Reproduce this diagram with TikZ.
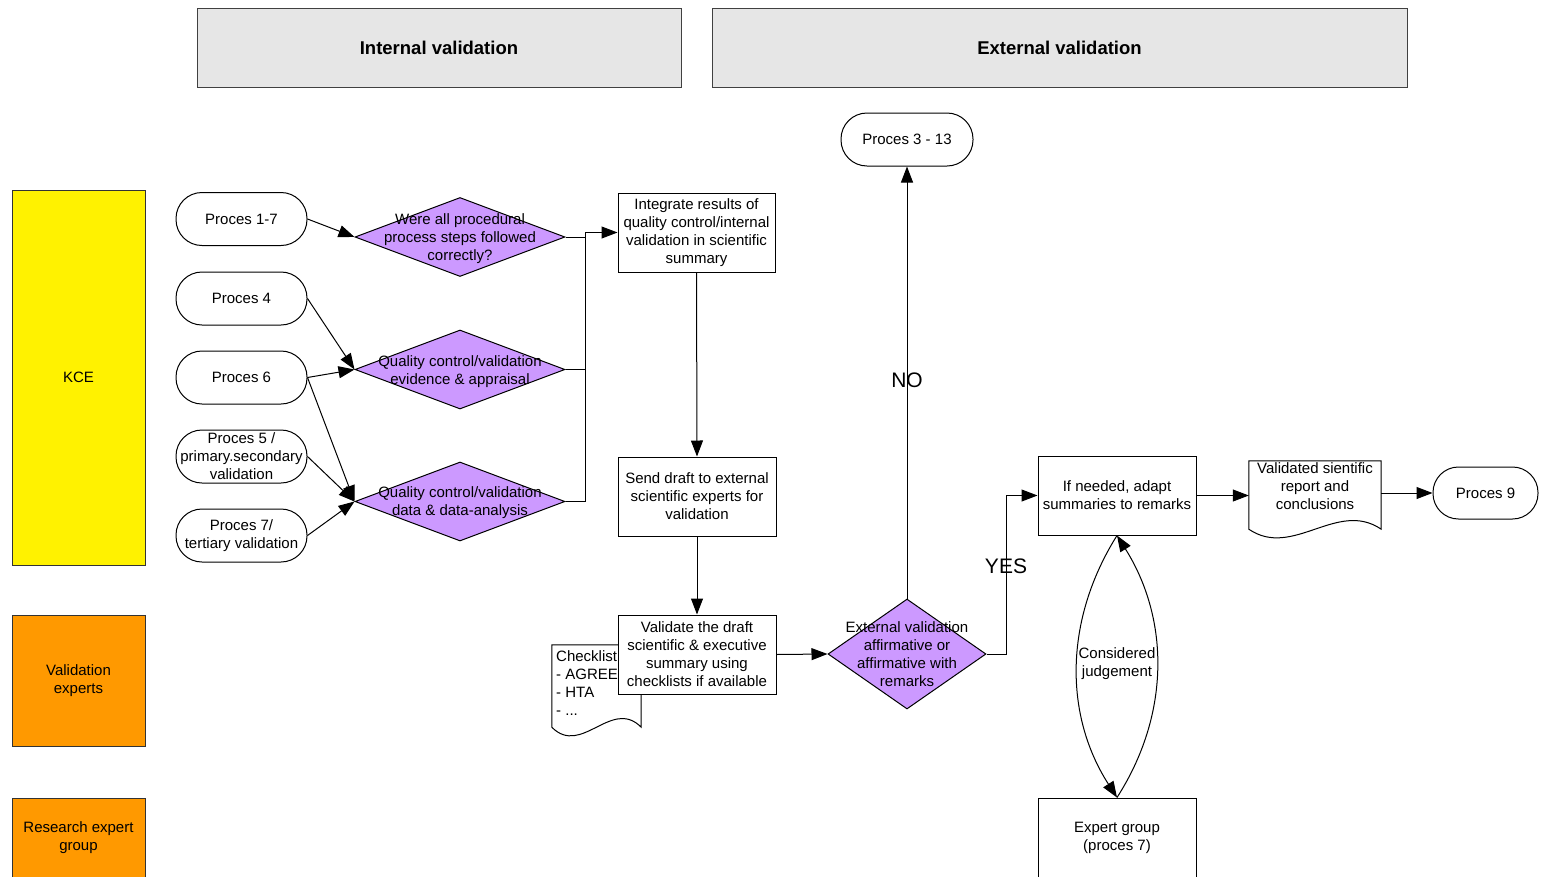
\documentclass[tikz,border=0pt]{standalone}
\usepackage{fontspec}
\setmainfont{Liberation Sans}
\usetikzlibrary{arrows.meta,shapes.geometric}
\definecolor{violetfill}{HTML}{CC99FF}
\definecolor{headgray}{HTML}{E6E6E6}
\definecolor{laneorange}{HTML}{FF9900}
\begin{document}
\begin{tikzpicture}[x=1pt,y=-1pt,
  every node/.style={font=\fontsize{15}{18}\selectfont, inner sep=0pt, align=center},
  ln/.style={line width=1pt, draw=black},
  arr/.style={ln, -{Triangle[length=16pt,width=12pt]}},
  head/.style={draw=black!75, fill=headgray, line width=1pt, rectangle, minimum height=79pt, font=\fontsize{18.5}{22}\selectfont\bfseries},
  lane/.style={draw=black!80, line width=1pt, rectangle, minimum width=133pt},
  term/.style={draw=black, line width=1pt, rectangle, rounded corners=26pt, minimum width=131pt, minimum height=53pt, fill=white},
  proc/.style={draw=black, line width=1pt, rectangle, fill=white, minimum width=158pt, minimum height=79pt},
  dia/.style={draw=black, line width=1pt, diamond, fill=violetfill},
  big/.style={font=\fontsize{21}{24}\selectfont},
  docbox/.style={draw=none, rectangle}
]
\useasboundingbox (0,0) rectangle (1543,876);
\clip (0,0) rectangle (1543,876);

% headers
\node[head, minimum width=484pt] (hint) at (439,47.5) {Internal validation};
\node[head, minimum width=695pt] (hext) at (1059.5,47.5) {External validation};

% lanes
\node[lane, fill=yellow, minimum height=375pt] (kce) at (78.5,377.5) {KCE};
\node[lane, fill=laneorange, minimum height=131pt] (vexp) at (78.5,680.5) {Validation\\experts};
\node[lane, fill=laneorange, minimum height=80pt] (rexp) at (78.5,838) {Research expert\\group};

% process terminals
\node[term] (p17) at (241.5,219) {Proces 1-7};
\node[term] (p4) at (241.5,298.5) {Proces 4};
\node[term] (p6) at (241.5,377.5) {Proces 6};
\node[term] (p5) at (241.5,456.5) {Proces 5 /\\primary.secondary\\validation};
\node[term] (p7) at (241.5,535.5) {Proces 7/\\tertiary validation};
\node[term, minimum width=132pt] (p313) at (907,139.5) {Proces 3 - 13};
\node[term, minimum width=105pt, minimum height=52pt, rounded corners=25.5pt] (p9) at (1485.5,493) {Proces 9};

% diamonds
\node[dia, minimum width=210pt, minimum height=79pt] (d1) at (460,237) {};
\node[dia, minimum width=210pt, minimum height=79pt] (d2) at (460,369.5) {};
\node[dia, minimum width=210pt, minimum height=79pt] (d3) at (460,501.5) {};
\node[dia, minimum width=158pt, minimum height=110pt] (d4) at (907,654) {};
\node (d1t) at (460,239) {Were all procedural\\process steps followed\\correctly?};
\node (d2t) at (460,372) {Quality control/validation\\evidence \& appraisal};
\node (d3t) at (460,503) {Quality control/validation\\data \& data-analysis};
\node (d4t) at (907,654) {External validation\\affirmative or\\affirmative with\\remarks};

% checklist document (behind validate box)
\node[docbox, minimum width=89pt, minimum height=82pt] (chk) at (596.5,686) {};
\draw[ln, fill=white] (chk.south west) -- (chk.north west) -- (chk.north east) -- (chk.south east)
  .. controls ++(-29.7,-30) and ++(29.6,30) .. (chk.south west) -- cycle;
\node[anchor=north west, align=left] (chkt) at (556,650) {Checklist\\- AGREE\\- HTA\\- ...};

% process boxes
\node[proc, minimum width=157pt] (integ) at (696.5,232.5) {Integrate results of\\quality control/internal\\validation in scientific\\summary};
\node[proc] (send) at (697,496.5) {Send draft to external\\scientific experts for\\validation};
\node[proc] (valid) at (697,654.5) {Validate the draft\\scientific \& executive\\summary using\\checklists if available};
\node[proc] (ifn) at (1117,495.5) {If needed, adapt\\summaries to remarks};
\node[proc, minimum height=80pt] (eg) at (1117,838) {Expert group\\(proces 7)};

% validated report document
\node[docbox, minimum width=132pt, minimum height=64pt] (vdoc) at (1315,493) {};
\draw[ln, fill=white] ([yshift=-4pt]vdoc.south west) -- (vdoc.north west) -- (vdoc.north east) -- ([yshift=-4pt]vdoc.south east)
  .. controls ++(-44,-30) and ++(44,30) .. ([yshift=-4pt]vdoc.south west) -- cycle;
\node (vdoct) at (1315,486) {Validated sientific\\report and\\conclusions};

% connectors: left part
\draw[arr] (p17.east) -- (d1.west);
\draw[arr] (p4.east) -- (d2.west);
\draw[arr] (p6.east) -- (d2.west);
\draw[arr] (p6.east) -- (d3.west);
\draw[arr] (p5.east) -- (d3.west);
\draw[arr] (p7.east) -- (d3.west);

\coordinate (bus) at (585,232.5);
\draw[ln] (d1.east) -- (bus |- d1.east);
\draw[ln] (d2.east) -- (bus |- d2.east);
\draw[ln] (d3.east) -- (bus |- d3.east) -- (bus);
\draw[arr] (bus) -- (integ.west);

\draw[arr] (integ.south) -- (send.north);
\draw[arr] (send.south) -- (valid.north);
\draw[arr] (valid.east) -- (d4.west);

% decision outputs
\draw[arr] (d4.north) -- node[big, pos=0.505] (nolab) {NO} (p313.south);
\coordinate (yesbend) at (1006,654);
\draw[arr] (d4.east) -- (yesbend) |- (ifn.west);
\node[big] (yeslab) at (1006,566) {YES};

\draw[arr] (ifn.east) -- (vdoc.west |- ifn.east);
\draw[arr] (vdoc.east) -- (p9.west);

% considered judgement loop
\draw[arr] (ifn.south) .. controls (1064,620) and (1064,715) .. (eg.north);
\draw[arr] (eg.north) .. controls (1170,715) and (1170,620) .. (ifn.south);
\node (cj) at (1117,664) {Considered\\judgement};
\end{tikzpicture}
\end{document}
